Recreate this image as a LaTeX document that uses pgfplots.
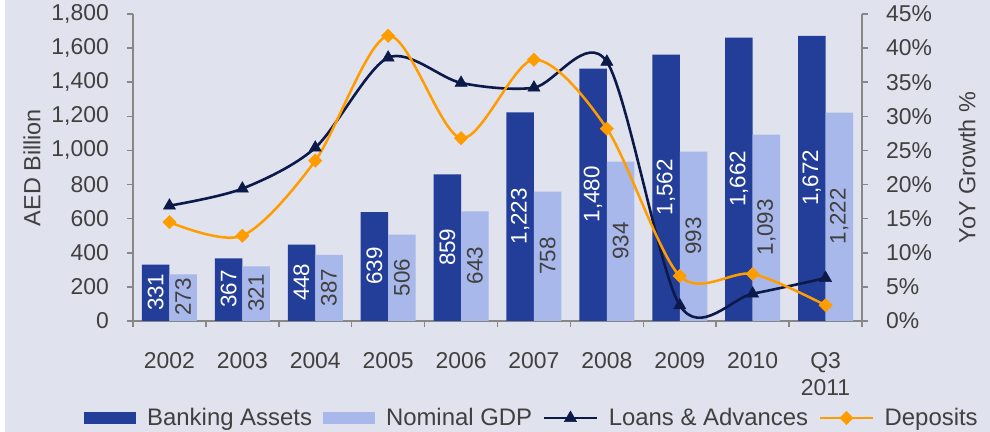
\documentclass[border=0pt]{standalone}
\usepackage{fontspec}
\setmainfont{Liberation Sans}
\usepackage{graphicx}
\usepackage{pgfplots}
\pgfplotsset{compat=1.18}
\definecolor{bgc}{HTML}{E0E2EE}
\definecolor{darkbar}{HTML}{233E99}
\definecolor{lightbar}{HTML}{A8B8EA}
\definecolor{navy}{HTML}{0C1A4A}
\definecolor{orng}{HTML}{FF9C00}
\definecolor{axgray}{HTML}{878787}
\definecolor{txt}{HTML}{404040}
\newcommand{\f}{\fontsize{23}{27}\selectfont}
\newcommand{\fl}{\fontsize{23.5}{27}\selectfont}
\newcommand{\fg}{\fontsize{24}{27}\selectfont}
\newcommand{\fb}{\fontsize{22.5}{27}\selectfont}
\pgfplotsset{
 mybarlegend/.style={legend image code/.code={\fill[##1] (0bp,-6bp) rectangle (52bp,6bp);}},
 mylinelegend/.style={legend image code/.code={\draw[mark repeat=2,mark phase=2,##1] plot coordinates {(0bp,0bp) (26bp,0bp) (52bp,0bp)};}},
 common/.style={
  at={(133bp,111bp)}, anchor=south west, scale only axis, width=729bp, height=307bp,
  xmin=-0.5, xmax=9.5,
  /pgf/number format/assume math mode=true,
  /pgf/number format/1000 sep={,},
  axis line style={axgray, line width=1.5bp},
  tick style={axgray, line width=1.5bp},
  tick align=outside, major tick length=6bp,
  tick label style={font=\f, text=txt},
  label style={font=\fl, text=txt},
 }
}
\begin{document}
\begin{tikzpicture}
\fill[white] (0,0) rectangle (990bp,432bp);
\fill[bgc] (5bp,0) rectangle (990bp,432bp);
\begin{axis}[common,
 ymin=0, ymax=1800,
 ybar=0pt, bar width=27.5bp,
 axis x line*=bottom, axis y line*=left,
 xtick={-0.5,0.5,...,9.5}, xticklabels={},
 extra x ticks={0,1,...,9},
 extra x tick labels={2002,2003,2004,2005,2006,2007,2008,2009,2010,{Q3\\2011}},
 extra x tick style={major tick length=0pt},
 xticklabel style={align=center, anchor=north, inner sep=0pt, yshift=-31bp},
 ytick={0,200,...,1800},
 yticklabel style={anchor=east, inner sep=0pt, xshift=-18bp},
 ylabel={AED Billion},
 ylabel style={at={(axis description cs:-0.1385,0.5)}, anchor=center},
 point meta=y,
 visualization depends on={rawy \as \myy},
 nodes near coords={\rotatebox{90}{\makebox[0pt]{\pgfmathprintnumber{\pgfplotspointmeta}}}},
 every node near coord/.append style={inner sep=0pt, outer sep=0pt, font=\fb, yshift={-\myy*0.0852778bp}},
]
\addplot[fill=darkbar, draw=none, every node near coord/.append style={text=white}] coordinates {
 (0,331) (1,367) (2,448) (3,639) (4,859) (5,1223) (6,1480) (7,1562) (8,1662) (9,1672)};
\addplot[fill=lightbar, draw=none, every node near coord/.append style={text=txt}] coordinates {
 (0,273) (1,321) (2,387) (3,506) (4,643) (5,758) (6,934) (7,993) (8,1093) (9,1222)};
\end{axis}
\begin{axis}[common,
 ymin=0, ymax=45, clip=false,
 axis x line=none, axis y line*=right,
 ytick={0,5,...,45},
 yticklabel={\pgfmathprintnumber{\tick}\%},
 yticklabel style={anchor=west, inner sep=0pt, xshift=18bp},
 ylabel={YoY Growth \%},
 ylabel style={at={(axis description cs:1.144,0.5)}, anchor=center},
 legend columns=4,
 legend style={at={(axis description cs:-0.0672,-0.316)}, anchor=west, draw=none, fill=none,
   font=\fg, text=txt, inner sep=0pt, nodes={inner xsep=11bp, inner ysep=1bp},
   /tikz/every even column/.append style={column sep=0bp}},
]
\addlegendimage{mybarlegend, fill=darkbar, draw=none}
\addlegendentry{Banking Assets}
\addlegendimage{mybarlegend, fill=lightbar, draw=none}
\addlegendentry{Nominal GDP}
\addplot[navy, line width=2.6bp, smooth, mark=triangle*, mark size=7bp,
  mark options={solid, fill=navy, draw=navy, line width=0.5bp}, mylinelegend] coordinates {
 (0,16.9) (1,19.4) (2,25.4) (3,38.6) (4,34.9) (5,34.2) (6,38.0) (7,2.3) (8,4.0) (9,6.3)};
\addlegendentry{Loans \& Advances}
\addplot[orng, line width=2.5bp, smooth, mark=square*, mark size=4.7bp,
  mark options={solid, rotate=45, fill=orng, draw=orng, line width=0.5bp}, mylinelegend] coordinates {
 (0,14.5) (1,12.5) (2,23.5) (3,41.8) (4,26.8) (5,38.3) (6,28.2) (7,6.6) (8,6.9) (9,2.3)};
\addlegendentry{Deposits}
\end{axis}
\pgfresetboundingbox
\path[use as bounding box] (0,0) rectangle (990bp,432bp);
\end{tikzpicture}
\end{document}
